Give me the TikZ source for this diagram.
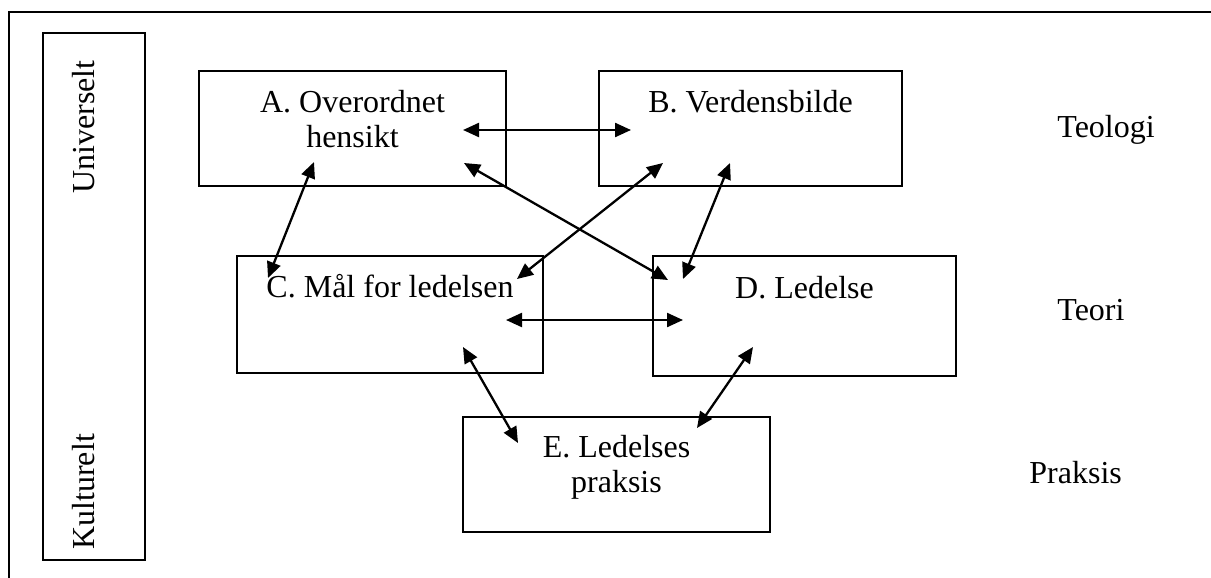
\documentclass[tikz,border=0pt]{standalone}
\usepackage{fontspec}
\setmainfont{Liberation Serif}
\usetikzlibrary{arrows.meta}
\begin{document}
\begin{tikzpicture}[x=0.5pt,y=-0.5pt,
  box/.style={draw, line width=0.7pt, inner sep=0pt},
  lbl/.style={inner sep=0pt, anchor=base, font=\fontsize{16pt}{19pt}\selectfont},
  sidelbl/.style={inner sep=0pt, anchor=base west, font=\fontsize{16pt}{19pt}\selectfont},
  vlbl/.style={inner sep=0pt, anchor=base west, rotate=90, font=\fontsize{16pt}{19pt}\selectfont},
  biarrow/.style={line width=1.15pt, {Triangle[length=8pt,width=7pt]}-{Triangle[length=8pt,width=7pt]}}]
\useasboundingbox (0,0) rectangle (1211,578);
% outer frame (open to the right and bottom)
\coordinate (f1) at (9,578);
\coordinate (f2) at (9,12);
\coordinate (f3) at (1211,12);
\draw[line width=0.7pt] (f1) -- (f2) -- (f3);
% left column box
\node[box, minimum width=51pt, minimum height=263.5pt] (L) at (94,296.5) {};
\node[vlbl] (Lu) at (94,194) {Universelt};
\node[vlbl] (Lk) at (94,550) {Kulturelt};
% boxes
\node[box, minimum width=153.5pt, minimum height=57.5pt] (A) at (352.5,128.5) {};
\node[box, minimum width=151.5pt, minimum height=57.5pt] (B) at (750.5,128.5) {};
\node[box, minimum width=153pt, minimum height=58.5pt] (C) at (390,314.5) {};
\node[box, minimum width=151.5pt, minimum height=60pt] (D) at (804.5,316) {};
\node[box, minimum width=153.5pt, minimum height=57.5pt] (E) at (616.5,474.5) {};
% box texts
\node[lbl] (A1) at (352.5,112) {A. Overordnet};
\node[lbl] (A2) at (352.5,147) {hensikt};
\node[lbl] (B1) at (750.5,112) {B. Verdensbilde};
\node[lbl] (C1) at (390,297) {C. Mål for ledelsen};
\node[lbl] (D1) at (804.5,298) {D. Ledelse};
\node[lbl] (E1) at (616.5,457) {E. Ledelses};
\node[lbl] (E2) at (616.5,492) {praksis};
% side labels
\node[sidelbl] (T1) at (1057,137) {Teologi};
\node[sidelbl] (T2) at (1057,320) {Teori};
\node[sidelbl] (T3) at (1029,483) {Praksis};
% arrow end points
\coordinate (ab1) at (463,130); \coordinate (ab2) at (631,130);
\coordinate (ac1) at (314,162); \coordinate (ac2) at (268,278);
\coordinate (ad1) at (464,163); \coordinate (ad2) at (668,280);
\coordinate (bc1) at (663,163); \coordinate (bc2) at (517,279);
\coordinate (bd1) at (730,163); \coordinate (bd2) at (683,279);
\coordinate (cd1) at (506,320); \coordinate (cd2) at (683,320);
\coordinate (ce1) at (463,347); \coordinate (ce2) at (518,443);
\coordinate (de1) at (753,347); \coordinate (de2) at (697,428);
% arrows
\draw[biarrow] (ab1) -- (ab2);
\draw[biarrow] (ac1) -- (ac2);
\draw[biarrow] (ad1) -- (ad2);
\draw[biarrow] (bc1) -- (bc2);
\draw[biarrow] (bd1) -- (bd2);
\draw[biarrow] (cd1) -- (cd2);
\draw[biarrow] (ce1) -- (ce2);
\draw[biarrow] (de1) -- (de2);
\end{tikzpicture}
\end{document}
